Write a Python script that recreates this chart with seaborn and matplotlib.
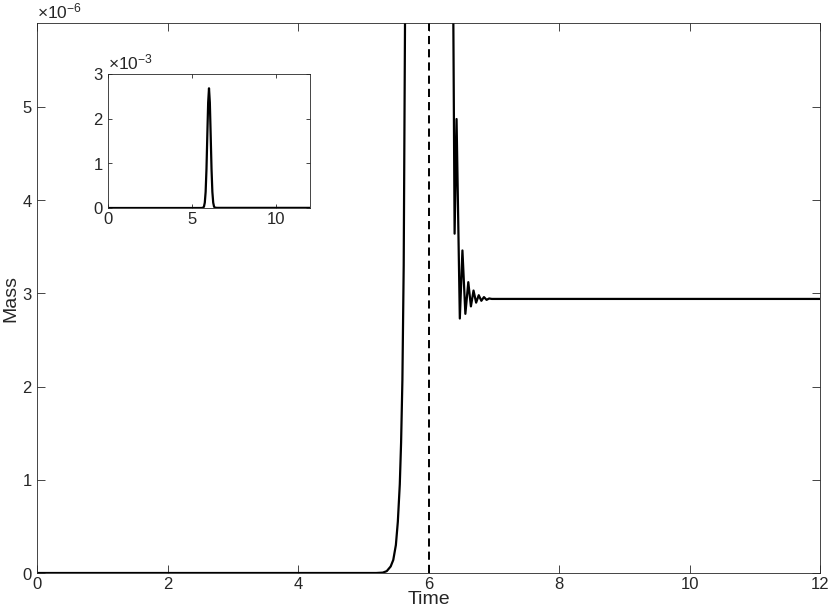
import matplotlib
matplotlib.use("Agg")
import matplotlib.pyplot as plt
import matplotlib.ticker as mticker
import seaborn as sns
import pandas as pd

# ---- data ----
time = [0.0, 4.0, 5.0, 5.2, 5.3, 5.36, 5.42, 5.46, 5.5, 5.53, 5.56, 5.58, 5.6, 5.62, 5.64,
        5.7, 5.75, 5.8, 5.85, 5.9, 5.95, 6.0, 6.05, 6.1, 6.15, 6.2, 6.25, 6.3, 6.35, 6.38,
        6.40, 6.43, 6.48, 6.52, 6.565, 6.61, 6.65, 6.69, 6.73, 6.77, 6.81, 6.85, 6.89,
        6.93, 6.97, 8.0, 10.0, 12.0]
mass = [0.0, 0.0, 0.0, 0.0, 0.004e-6, 0.02e-6, 0.07e-6, 0.14e-6, 0.3e-6, 0.55e-6, 0.95e-6,
        1.4e-6, 2.07e-6, 3.3e-6, 5.9e-6,
        3.0e-5, 1.2e-4, 3.6e-4, 8.7e-4, 1.63e-3, 2.36e-3, 2.68e-3, 2.36e-3, 1.63e-3,
        8.7e-4, 3.6e-4, 1.2e-4, 3.0e-5, 1.0e-5, 6.0e-6,
        3.64e-6, 4.87e-6, 2.73e-6, 3.46e-6, 2.78e-6, 3.12e-6, 2.86e-6, 3.03e-6, 2.90e-6,
        2.98e-6, 2.92e-6, 2.96e-6, 2.93e-6, 2.945e-6, 2.94e-6, 2.94e-6, 2.94e-6, 2.94e-6]
event_time = 6.0
main_xticks = [0, 2, 4, 6, 8, 10, 12]
main_yticks = [0, 1e-6, 2e-6, 3e-6, 4e-6, 5e-6]
inset_xticks = [0, 5, 10]
inset_yticks = [0, 1e-3, 2e-3, 3e-3]

df = pd.DataFrame({"Time": time, "Mass": mass})

sns.set_style("ticks")
plt.rcParams["font.family"] = ["Liberation Sans", "DejaVu Sans"]
plt.rcParams["mathtext.fontset"] = "custom"
plt.rcParams["mathtext.rm"] = "Liberation Sans"
plt.rcParams["mathtext.it"] = "Liberation Sans"
plt.rcParams["axes.unicode_minus"] = False

axcol = "#262626"

fig = plt.figure(figsize=(8.3, 6.16), dpi=100)
ax = fig.add_axes([37 / 830, 43 / 616, 783 / 830, 550 / 616])

sns.lineplot(data=df, x="Time", y="Mass", ax=ax, color="black", linewidth=1.6,
             estimator=None, sort=False)
ax.axvline(event_time, color="black", linewidth=1.4, linestyle=(0, (4.2, 2.6)))

ax.set_xlim(0, 12)
ax.set_ylim(0, 5.9e-6)
ax.set_xticks(main_xticks)
ax.set_yticks(main_yticks)
fmt = mticker.ScalarFormatter(useMathText=True)
fmt.set_powerlimits((0, 0))
ax.yaxis.set_major_formatter(fmt)
ax.set_xlabel("Time", fontsize=14, color=axcol, labelpad=-1)
ax.set_ylabel("Mass", fontsize=14, color=axcol, labelpad=2)
ax.tick_params(direction="in", top=True, right=True, length=5.6, width=0.6,
               colors=axcol, labelsize=12, pad=3)
ax.yaxis.get_offset_text().set_fontsize(12.5)
ax.yaxis.get_offset_text().set_color(axcol)
for s in ax.spines.values():
    s.set_visible(True)
    s.set_color(axcol)
    s.set_linewidth(0.6)

# ---- inset ----
axin = fig.add_axes([108 / 830, 408 / 616, 202 / 830, 134 / 616])
sns.lineplot(data=df, x="Time", y="Mass", ax=axin, color="black", linewidth=1.6,
             estimator=None, sort=False)
axin.set_xlim(0, 12)
axin.set_ylim(0, 3e-3)
axin.set_xticks(inset_xticks)
axin.set_yticks(inset_yticks)
fmt2 = mticker.ScalarFormatter(useMathText=True)
fmt2.set_powerlimits((0, 0))
axin.yaxis.set_major_formatter(fmt2)
axin.set_xlabel("")
axin.set_ylabel("")
axin.tick_params(direction="in", top=True, right=True, length=3, width=0.6,
                 colors=axcol, labelsize=12, pad=3)
axin.yaxis.get_offset_text().set_fontsize(12.5)
axin.yaxis.get_offset_text().set_color(axcol)
for s in axin.spines.values():
    s.set_visible(True)
    s.set_color(axcol)
    s.set_linewidth(0.6)

fig.savefig("out.png", dpi=100)
